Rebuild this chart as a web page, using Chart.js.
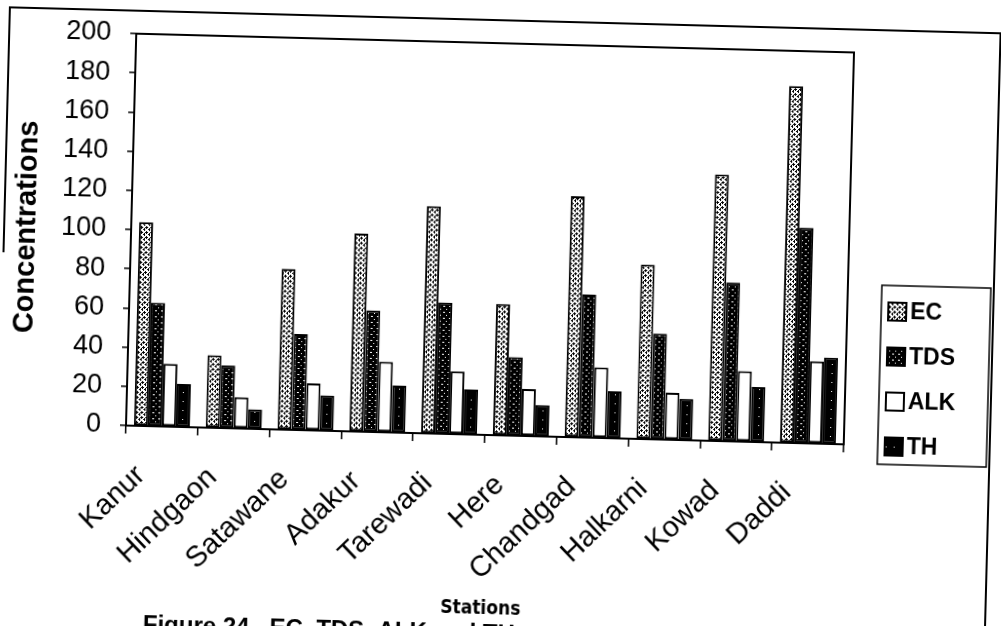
<!DOCTYPE html>
<html>
<head>
<meta charset="utf-8">
<script src="https://cdn.jsdelivr.net/npm/chart.js@4"></script>
<style>
  html, body { margin: 0; padding: 0; background: #fff; overflow: hidden; width: 1001px; height: 626px; }
  #myChart { position: absolute; left: 0; top: 0; transform: rotate(1.5deg); transform-origin: 490px 239px; }
</style>
</head>
<body>
<canvas id="myChart" width="1001" height="660"></canvas>
<script>
const stations = ['Kanur', 'Hindgaon', 'Satawane', 'Adakur', 'Tarewadi', 'Here', 'Chandgad', 'Halkarni', 'Kowad', 'Daddi'];
const ecValues = [104, 37, 82, 101, 116, 67, 123, 89, 136, 182];
const tdsValues = [63, 32, 49, 62, 67, 40, 73, 54, 81, 110];
const alkValues = [32, 16, 24, 36, 32, 24, 36, 24, 36, 42];
const thValues = [22, 10, 18, 24, 23, 16, 24, 21, 28, 44];
const seriesNames = ['EC', 'TDS', 'ALK', 'TH'];

const FONT = '"Liberation Sans", Arial, sans-serif';
const ctx = document.getElementById('myChart').getContext('2d');

// little tiles used as fill patterns, like the old excel hatches
function makePattern(w, h, bg, fg, marks) {
    const c = document.createElement('canvas');
    c.width = w; c.height = h;
    const g = c.getContext('2d');
    g.fillStyle = bg;
    g.fillRect(0, 0, w, h);
    g.fillStyle = fg;
    marks.forEach(m => g.fillRect(m[0], m[1], m[2], m[3]));
    return ctx.createPattern(c, 'repeat');
}

const ecFill = makePattern(5, 5, '#fff', '#000', [[0, 1, 3, 1], [1, 0, 1, 3], [3, 3, 2, 1], [4, 2, 1, 3]]);
const tdsFill = makePattern(6, 6, '#000', '#fff', [[1, 1, 2, 1], [4, 4, 1, 1]]);
const thFill = makePattern(8, 9, '#000', '#fff', [[3, 4, 1, 1]]);

const framePlugin = {
    id: 'frames',
    afterDraw(chart) {
        const c = chart.ctx;
        const a = chart.chartArea;
        c.save();
        c.strokeStyle = '#000';
        c.lineWidth = 2;
        c.strokeRect(a.left, a.top, a.right - a.left, a.bottom - a.top);
        // outer border of the figure (left edge faded out in the scan)
        c.beginPath();
        c.moveTo(4, 265);
        c.lineTo(4, 20);
        c.lineTo(995, 20);
        c.lineTo(995, 720);
        c.stroke();

        // legend box
        c.lineWidth = 1.5;
        c.strokeRect(883, 275, 109, 179);
        c.font = 'bold 23px ' + FONT;
        c.textBaseline = 'middle';
        c.textAlign = 'left';
        chart.data.datasets.forEach((ds, i) => {
            const y = 301 + i * 45;
            c.fillStyle = ds.backgroundColor;
            c.fillRect(890, y - 9, 18, 18);
            c.lineWidth = 2;
            c.strokeRect(890, y - 9, 18, 18);
            c.fillStyle = '#000';
            c.fillText(ds.label, 912, y + 1);
        });

        // caption, mostly cut off at the bottom
        c.font = 'bold 24px ' + FONT;
        c.textBaseline = 'alphabetic';
        c.fillText('Figure 24 . EC, TDS, ALK and TH', 153, 641);
        c.restore();
    }
};

const myChart = new Chart(ctx, {
    type: 'bar',
    data: {
        labels: stations,
        datasets: [
            { label: seriesNames[0], data: ecValues, backgroundColor: ecFill },
            { label: seriesNames[1], data: tdsValues, backgroundColor: tdsFill },
            { label: seriesNames[2], data: alkValues, backgroundColor: '#fff' },
            { label: seriesNames[3], data: thValues, backgroundColor: thFill }
        ].map(d => Object.assign(d, { borderColor: '#000', borderWidth: 2, borderSkipped: false }))
    },
    options: {
        responsive: false,
        animation: false,
        devicePixelRatio: 1,
        layout: { padding: { left: 0, top: 43, right: 152, bottom: 34 } },
        datasets: {
            bar: { categoryPercentage: 0.78, barPercentage: 1.0 }
        },
        plugins: {
            legend: { display: false },
            tooltip: { enabled: false }
        },
        scales: {
            y: {
                min: 0,
                max: 200,
                ticks: { stepSize: 20, color: '#000', padding: 19, font: { family: FONT, size: 27 } },
                grid: { drawOnChartArea: false, tickLength: 6, color: '#000', lineWidth: 1.5 },
                border: { color: '#000', width: 2 },
                title: {
                    display: true,
                    text: 'Concentrations',
                    color: '#000',
                    font: { family: FONT, size: 29, weight: 'bold' },
                    padding: { top: 10, bottom: 0 }
                },
                afterFit: s => { s.width = 131; }
            },
            x: {
                ticks: {
                    color: '#000',
                    autoSkip: false,
                    minRotation: 45,
                    maxRotation: 45,
                    padding: 25,
                    labelOffset: -20,
                    font: { family: FONT, size: 29 }
                },
                grid: { offset: true, drawOnChartArea: false, tickLength: 8, color: '#000', lineWidth: 1.5 },
                border: { color: '#000', width: 2 },
                title: {
                    display: true,
                    text: 'Stations',
                    color: '#000',
                    font: { family: '"Liberation Sans Narrow", "DejaVu Sans Condensed", ' + FONT, size: 19, weight: 'bold' },
                    padding: { top: 0, bottom: 6 }
                },
                afterFit: s => { s.height = 191; }
            }
        }
    },
    plugins: [framePlugin]
});
</script>
</body>
</html>
